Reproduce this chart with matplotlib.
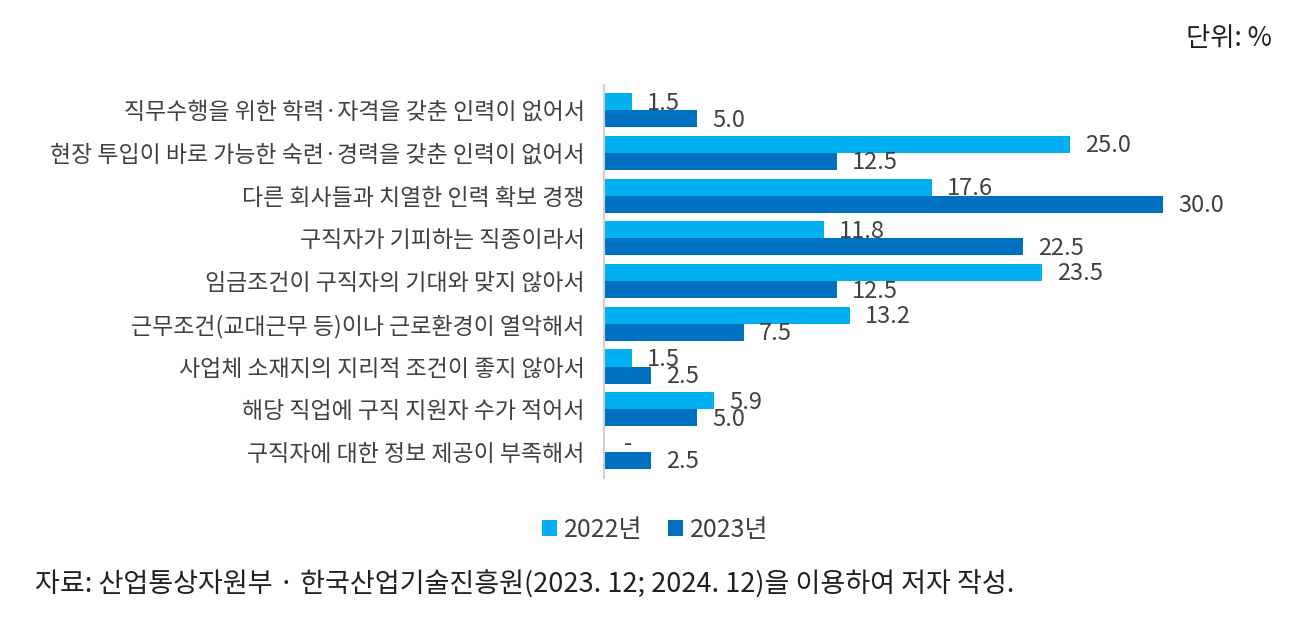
import matplotlib
matplotlib.use('Agg')
import matplotlib.pyplot as plt
import numpy as np

plt.rcParams['font.family'] = ['Noto Sans CJK KR', 'DejaVu Sans']

categories = [
    '직무수행을 위한 학력·자격을 갖춘 인력이 없어서',
    '현장 투입이 바로 가능한 숙련·경력을 갖춘 인력이 없어서',
    '다른 회사들과 치열한 인력 확보 경쟁',
    '구직자가 기피하는 직종이라서',
    '임금조건이 구직자의 기대와 맞지 않아서',
    '근무조건(교대근무 등)이나 근로환경이 열악해서',
    '사업체 소재지의 지리적 조건이 좋지 않아서',
    '해당 직업에 구직 지원자 수가 적어서',
    '구직자에 대한 정보 제공이 부족해서',
]
v2022 = [1.5, 25.0, 17.6, 11.8, 23.5, 13.2, 1.5, 5.9, 0.0]
v2023 = [5.0, 12.5, 30.0, 22.5, 12.5, 7.5, 2.5, 5.0, 2.5]
series_names = ['2022년', '2023년']
colors = ['#00B0F0', '#0070C0']

fig = plt.figure(figsize=(12.94, 6.31), dpi=100)
ax = fig.add_axes([0.4668, 0.243, 0.5183, 0.623])

y = np.arange(len(categories))
h = 0.4
for vals, off, c, name in [(v2022, -h / 2, colors[0], series_names[0]),
                           (v2023, h / 2, colors[1], series_names[1])]:
    ax.barh(y + off, vals, height=h, color=c, label=name)
    for yi, v in zip(y + off, vals):
        txt = '-' if v == 0 else f'{v:.1f}'
        ax.annotate(txt, (v, yi), xytext=(11 if v else 14, -1), textcoords='offset points',
                    ha='left', va='center', fontsize=17, color='#404040')

ax.set_xlim(0, 36)
ax.set_ylim(8.6, -0.6)
ax.set_yticks(y)
ax.set_yticklabels(categories, fontsize=16.5, color='#404040')
ax.tick_params(axis='y', length=0, pad=14)
ax.set_xticks([])
for s in ['top', 'right', 'bottom']:
    ax.spines[s].set_visible(False)
ax.spines['left'].set_color('#d0d0d0')
ax.spines['left'].set_linewidth(1.5)

fig.legend(loc='center', bbox_to_anchor=(655 / 1294, 1 - 530 / 631), ncol=2,
           frameon=False, fontsize=18, handlelength=0.6, handleheight=0.6,
           handletextpad=0.3, columnspacing=1.0, labelcolor='#404040')

fig.text(1272 / 1294, 1 - 38 / 631, '단위: %', ha='right', va='center', fontsize=19, color='#202020')
fig.text(35 / 1294, 1 - 585 / 631, '자료: 산업통상자원부 · 한국산업기술진흥원(2023. 12; 2024. 12)을 이용하여 저자 작성.',
         ha='left', va='center', fontsize=19.5, color='#202020')

fig.savefig('out.png', dpi=100)
